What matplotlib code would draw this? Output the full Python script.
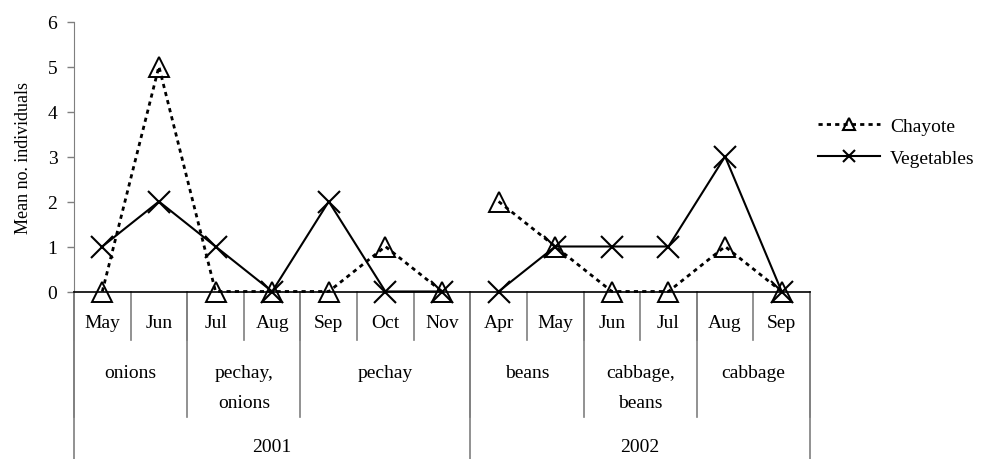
import matplotlib.pyplot as plt
from matplotlib.lines import Line2D
import numpy as np

plt.rcParams['font.family'] = ['Liberation Serif', 'DejaVu Serif']

# Values
months = ['May', 'Jun', 'Jul', 'Aug', 'Sep', 'Oct', 'Nov',
          'Apr', 'May', 'Jun', 'Jul', 'Aug', 'Sep']
crops = ['onions', 'pechay,\nonions', 'pechay', 'beans', 'cabbage,\nbeans', 'cabbage']
crop_spans = [2, 2, 3, 2, 2, 2]
years = ['2001', '2002']
year_spans = [7, 6]
chayote = [0, 5, 0, 0, 0, 1, 0, 2, 1, 0, 0, 1, 0]
vegetables = [1, 2, 1, 0, 2, 0, 0, 0, 1, 1, 1, 3, 0]

fs = 14
sep_color = '#7f7f7f'
dotted = (0, (1.5, 1.5))

fig = plt.figure(figsize=(9.92, 4.60), dpi=100)
ax = fig.add_axes([74 / 992, 1 - 292.5 / 460, (810 - 74) / 992, 270 / 460])

x = np.arange(len(months))
# each year is drawn as its own segment
start = 0
for span in year_spans:
    sl = slice(start, start + span)
    ax.plot(x[sl], chayote[sl], color='black', lw=2, linestyle=dotted,
            marker='^', markersize=14, markerfacecolor='none',
            markeredgecolor='black', markeredgewidth=1.4, clip_on=False, zorder=3)
    ax.plot(x[sl], vegetables[sl], color='black', lw=1.5,
            marker='x', markersize=16, markeredgewidth=1.5, clip_on=False, zorder=3)
    start += span

ax.set_xlim(-0.5, len(months) - 0.5)
ax.set_ylim(0, 6)
ax.set_yticks(range(7))
ax.tick_params(axis='y', direction='out', length=5, width=1, color=sep_color,
               labelsize=fs, pad=7)
ax.set_xticks([])
ax.set_ylabel('Mean no. individuals', fontsize=13, labelpad=11)

for side in ['top', 'right']:
    ax.spines[side].set_visible(False)
ax.spines['left'].set_color(sep_color)
ax.spines['bottom'].set_color('black')
ax.spines['bottom'].set_linewidth(1.2)

trans = ax.get_xaxis_transform()

# month row
for i, m in enumerate(months):
    ax.text(i, -0.113, m, transform=trans, ha='center', va='center', fontsize=fs)
for b in range(len(months) + 1):
    ax.plot([b - 0.5, b - 0.5], [0, -0.18], transform=trans, color=sep_color,
            lw=1.2, clip_on=False)

# crop row
edges = np.concatenate([[0], np.cumsum(crop_spans)])
for name, a, b in zip(crops, edges[:-1], edges[1:]):
    ax.text((a + b - 1) / 2, -0.27, name, transform=trans, ha='center', va='top',
            fontsize=fs, linespacing=1.95)
for b in edges:
    ax.plot([b - 0.5, b - 0.5], [0, -0.465], transform=trans, color=sep_color,
            lw=1.2, clip_on=False)

# year row
edges = np.concatenate([[0], np.cumsum(year_spans)])
for name, a, b in zip(years, edges[:-1], edges[1:]):
    ax.text((a + b - 1) / 2, -0.575, name, transform=trans, ha='center', va='center',
            fontsize=fs)
for b in edges:
    ax.plot([b - 0.5, b - 0.5], [0, -0.65], transform=trans, color=sep_color,
            lw=1.2, clip_on=False)

handles = [
    Line2D([], [], color='black', lw=2, linestyle=dotted, marker='^', markersize=8,
           markerfacecolor='none', markeredgewidth=1.5),
    Line2D([], [], color='black', lw=1.5, marker='x', markersize=9,
           markeredgewidth=1.5),
]
fig.legend(handles, ['Chayote', 'Vegetables'], loc='upper left',
           bbox_to_anchor=(818 / 992, 1 - 118 / 460), frameon=False, fontsize=fs,
           handlelength=3.2, handletextpad=0.5, labelspacing=0.75,
           borderpad=0, borderaxespad=0)

fig.savefig('out.png', dpi=100)
